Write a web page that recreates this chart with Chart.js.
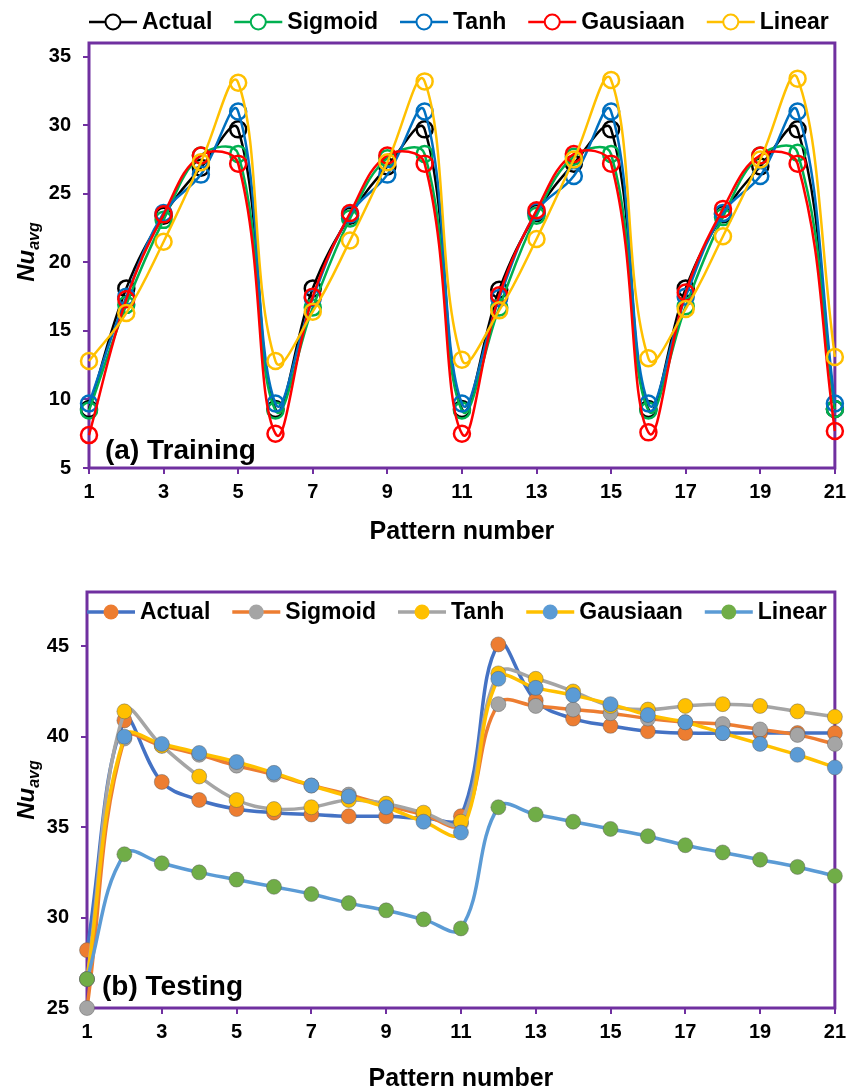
<!DOCTYPE html>
<html lang="en">
<head>
  <meta charset="UTF-8">
  <title>Nu avg - Training and Testing</title>
  <script src="https://cdn.jsdelivr.net/npm/chart.js"></script>
  <style>
    body {
      margin: 0;
      background: #fff;
      font-family: "Liberation Sans", Arial, sans-serif;
    }
    .painel {
      width: 852px;
      height: 545px;
    }
    canvas {
      display: block;
    }
  </style>
</head>
<body>
  <div class="painel"><canvas id="graficoTreino" width="852" height="545"></canvas></div>
  <div class="painel"><canvas id="graficoTeste" width="852" height="545"></canvas></div>
  <script>
    const FONTE = '"Liberation Sans", Arial, sans-serif';
    const ROXO = '#7030A0';

    const patterns = [1, 2, 3, 4, 5, 6, 7, 8, 9, 10, 11, 12, 13, 14, 15, 16, 17, 18, 19, 20, 21];
    const seriesNames = ['Actual', 'Sigmoid', 'Tanh', 'Gausiaan', 'Linear'];

    // (a) Training
    const trainActual  = [9.3, 18.1, 23.4, 26.9, 29.7, 9.3, 18.1, 23.4, 27.0, 29.7, 9.3, 18.0, 23.6, 27.2, 29.7, 9.3, 18.1, 23.5, 27.0, 29.7, 9.3];
    const trainSigmoid = [9.2, 16.9, 23.1, 27.8, 27.9, 9.2, 16.7, 23.2, 27.6, 27.9, 9.2, 16.7, 23.4, 27.7, 27.9, 9.2, 16.8, 23.3, 27.8, 28.0, 9.3];
    const trainTanh    = [9.7, 17.5, 23.6, 26.4, 31.0, 9.7, 17.4, 23.5, 26.4, 31.0, 9.7, 17.4, 23.7, 26.3, 31.0, 9.7, 17.5, 23.6, 26.3, 31.0, 9.7];
    const trainGaus    = [7.4, 17.3, 23.5, 27.8, 27.2, 7.5, 17.5, 23.6, 27.8, 27.2, 7.5, 17.6, 23.8, 27.9, 27.2, 7.6, 17.8, 23.9, 27.8, 27.2, 7.7];
    const trainLinear  = [12.8, 16.3, 21.5, 27.3, 33.1, 12.8, 16.4, 21.6, 27.3, 33.2, 12.9, 16.5, 21.7, 27.5, 33.3, 13.0, 16.6, 21.9, 27.5, 33.4, 13.1];

    // (b) Testing
    const testActual  = [28.2, 40.9, 37.5, 36.5, 36.0, 35.8, 35.7, 35.6, 35.6, 35.5, 35.6, 45.1, 42.0, 41.0, 40.6, 40.3, 40.2, 40.2, 40.2, 40.2, 40.2];
    const testSigmoid = [25.0, 39.9, 39.5, 39.0, 38.4, 37.9, 37.3, 36.8, 36.2, 35.7, 35.2, 41.8, 41.7, 41.5, 41.3, 41.0, 40.8, 40.7, 40.4, 40.1, 39.6];
    const testTanh    = [26.6, 41.4, 39.5, 37.8, 36.5, 36.0, 36.1, 36.5, 36.3, 35.8, 35.3, 43.5, 43.2, 42.5, 41.7, 41.5, 41.7, 41.8, 41.7, 41.4, 41.1];
    const testGaus    = [26.6, 40.0, 39.6, 39.1, 38.6, 38.0, 37.3, 36.7, 36.1, 35.3, 34.7, 43.2, 42.7, 42.3, 41.8, 41.2, 40.8, 40.2, 39.6, 39.0, 38.3];
    const testLinear  = [26.6, 33.5, 33.0, 32.5, 32.1, 31.7, 31.3, 30.8, 30.4, 29.9, 29.4, 36.1, 35.7, 35.3, 34.9, 34.5, 34.0, 33.6, 33.2, 32.8, 32.3];

    // cores das linhas e dos marcadores
    const trainLineColors = ['#000000', '#00B050', '#0070C0', '#FF0000', '#FFC000'];
    const testLineColors  = ['#4472C4', '#ED7D31', '#A5A5A5', '#FFC000', '#5B9BD5'];
    const testMarkColors  = ['#ED7D31', '#A5A5A5', '#FFC000', '#5B9BD5', '#70AD47'];

    function toPoints(values) {
      return values.map((v, i) => ({ x: patterns[i], y: v }));
    }

    // moldura roxa, legenda e títulos desenhados no canvas
    function moldura(cfg) {
      return {
        id: 'moldura',
        beforeDatasetsDraw(chart) {
          const { ctx, chartArea: a } = chart;
          ctx.save();
          ctx.strokeStyle = ROXO;
          ctx.lineWidth = 3;
          ctx.strokeRect(a.left, a.top, a.right - a.left, a.bottom - a.top);
          ctx.restore();
        },
        afterDraw(chart) {
          const ctx = chart.ctx;
          ctx.save();

          // legenda: linha + marcador + nome
          ctx.font = 'bold 23px ' + FONTE;
          ctx.textBaseline = 'middle';
          ctx.textAlign = 'left';
          let x = cfg.legendX;
          const y = cfg.legendY;
          chart.data.datasets.forEach(ds => {
            ctx.strokeStyle = ds.borderColor;
            ctx.lineWidth = cfg.lineWidth;
            ctx.beginPath();
            ctx.moveTo(x, y);
            ctx.lineTo(x + 48, y);
            ctx.stroke();
            ctx.beginPath();
            ctx.arc(x + 24, y, 7.5, 0, Math.PI * 2);
            if (cfg.hollow) {
              ctx.fillStyle = '#fff';
              ctx.fill();
              ctx.strokeStyle = ds.pointBorderColor;
              ctx.lineWidth = 2;
              ctx.stroke();
            } else {
              ctx.fillStyle = ds.pointBackgroundColor;
              ctx.fill();
            }
            ctx.fillStyle = '#000';
            ctx.fillText(ds.label, x + 53, y + 1);
            x += 53 + ctx.measureText(ds.label).width + 22;
          });

          // título do eixo x
          ctx.font = 'bold 25px ' + FONTE;
          ctx.textAlign = 'center';
          ctx.textBaseline = 'alphabetic';
          const a = chart.chartArea;
          ctx.fillText('Pattern number', (a.left + a.right) / 2, cfg.xTitleY);

          // rótulo do painel
          ctx.font = 'bold 28px ' + FONTE;
          ctx.textAlign = 'left';
          ctx.fillText(cfg.panel, cfg.panelX, cfg.panelY);

          // título do eixo y: Nu com subscrito avg
          ctx.translate(cfg.yTitleX, cfg.yTitleY);
          ctx.rotate(-Math.PI / 2);
          ctx.font = 'italic bold 24px ' + FONTE;
          const wNu = ctx.measureText('Nu').width;
          ctx.font = 'italic bold 16px ' + FONTE;
          const wSub = ctx.measureText('avg').width;
          const x0 = -(wNu + wSub) / 2;
          ctx.font = 'italic bold 24px ' + FONTE;
          ctx.fillText('Nu', x0, 0);
          ctx.font = 'italic bold 16px ' + FONTE;
          ctx.fillText('avg', x0 + wNu, 5);
          ctx.restore();
        }
      };
    }

    function eixos(yMin, yMax, yWidth, xHeight) {
      const marcas = { drawOnChartArea: false, drawTicks: true, tickLength: 6, color: ROXO, lineWidth: 2 };
      const fonteTicks = { family: FONTE, size: 20, weight: 'bold' };
      return {
        x: {
          type: 'linear',
          min: 1,
          max: 21,
          grid: marcas,
          border: { display: false },
          ticks: { stepSize: 2, color: '#000', font: fonteTicks, padding: 6, maxRotation: 0 },
          afterFit: s => { s.height = xHeight; }
        },
        y: {
          min: yMin,
          max: yMax,
          grid: marcas,
          border: { display: false },
          ticks: { stepSize: 5, includeBounds: false, color: '#000', font: fonteTicks, padding: 12 },
          afterFit: s => { s.width = yWidth; }
        }
      };
    }

    // (a) Training
    new Chart(document.getElementById('graficoTreino'), {
      type: 'line',
      data: {
        datasets: seriesNames.map((nome, i) => ({
          label: nome,
          data: toPoints([trainActual, trainSigmoid, trainTanh, trainGaus, trainLinear][i]),
          borderColor: trainLineColors[i],
          borderWidth: 2.5,
          pointRadius: 8,
          pointBorderWidth: 2.5,
          pointBorderColor: trainLineColors[i],
          pointBackgroundColor: 'rgba(0,0,0,0)',
          tension: 0.4,
          clip: false,
          order: seriesNames.length - i
        }))
      },
      options: {
        responsive: false,
        devicePixelRatio: 1,
        animation: false,
        events: [],
        layout: { autoPadding: false, padding: { left: 0, right: 10, top: 43, bottom: 0 } },
        scales: eixos(5, 36, 89, 77),
        plugins: { legend: { display: false }, tooltip: { enabled: false } }
      },
      plugins: [moldura({
        legendX: 89, legendY: 22, hollow: true, lineWidth: 2.5,
        xTitleY: 539, panel: '(a) Training', panelX: 105, panelY: 459,
        yTitleX: 34, yTitleY: 252
      })]
    });

    // (b) Testing
    new Chart(document.getElementById('graficoTeste'), {
      type: 'line',
      data: {
        datasets: seriesNames.map((nome, i) => ({
          label: nome,
          data: toPoints([testActual, testSigmoid, testTanh, testGaus, testLinear][i]),
          borderColor: testLineColors[i],
          borderWidth: 3.5,
          pointRadius: 7.5,
          pointBorderWidth: 1,
          pointBorderColor: 'rgba(90,90,90,0.45)',
          pointBackgroundColor: testMarkColors[i],
          tension: 0.4,
          clip: false,
          order: seriesNames.length - i
        }))
      },
      options: {
        responsive: false,
        devicePixelRatio: 1,
        animation: false,
        events: [],
        layout: { autoPadding: false, padding: { left: 0, right: 13, top: 47, bottom: 0 } },
        scales: eixos(25, 48, 87, 82),
        plugins: { legend: { display: false }, tooltip: { enabled: false } }
      },
      plugins: [moldura({
        legendX: 87, legendY: 67, hollow: false, lineWidth: 3.5,
        xTitleY: 541, panel: '(b) Testing', panelX: 102, panelY: 450,
        yTitleX: 34, yTitleY: 245
      })]
    });
  </script>
</body>
</html>
